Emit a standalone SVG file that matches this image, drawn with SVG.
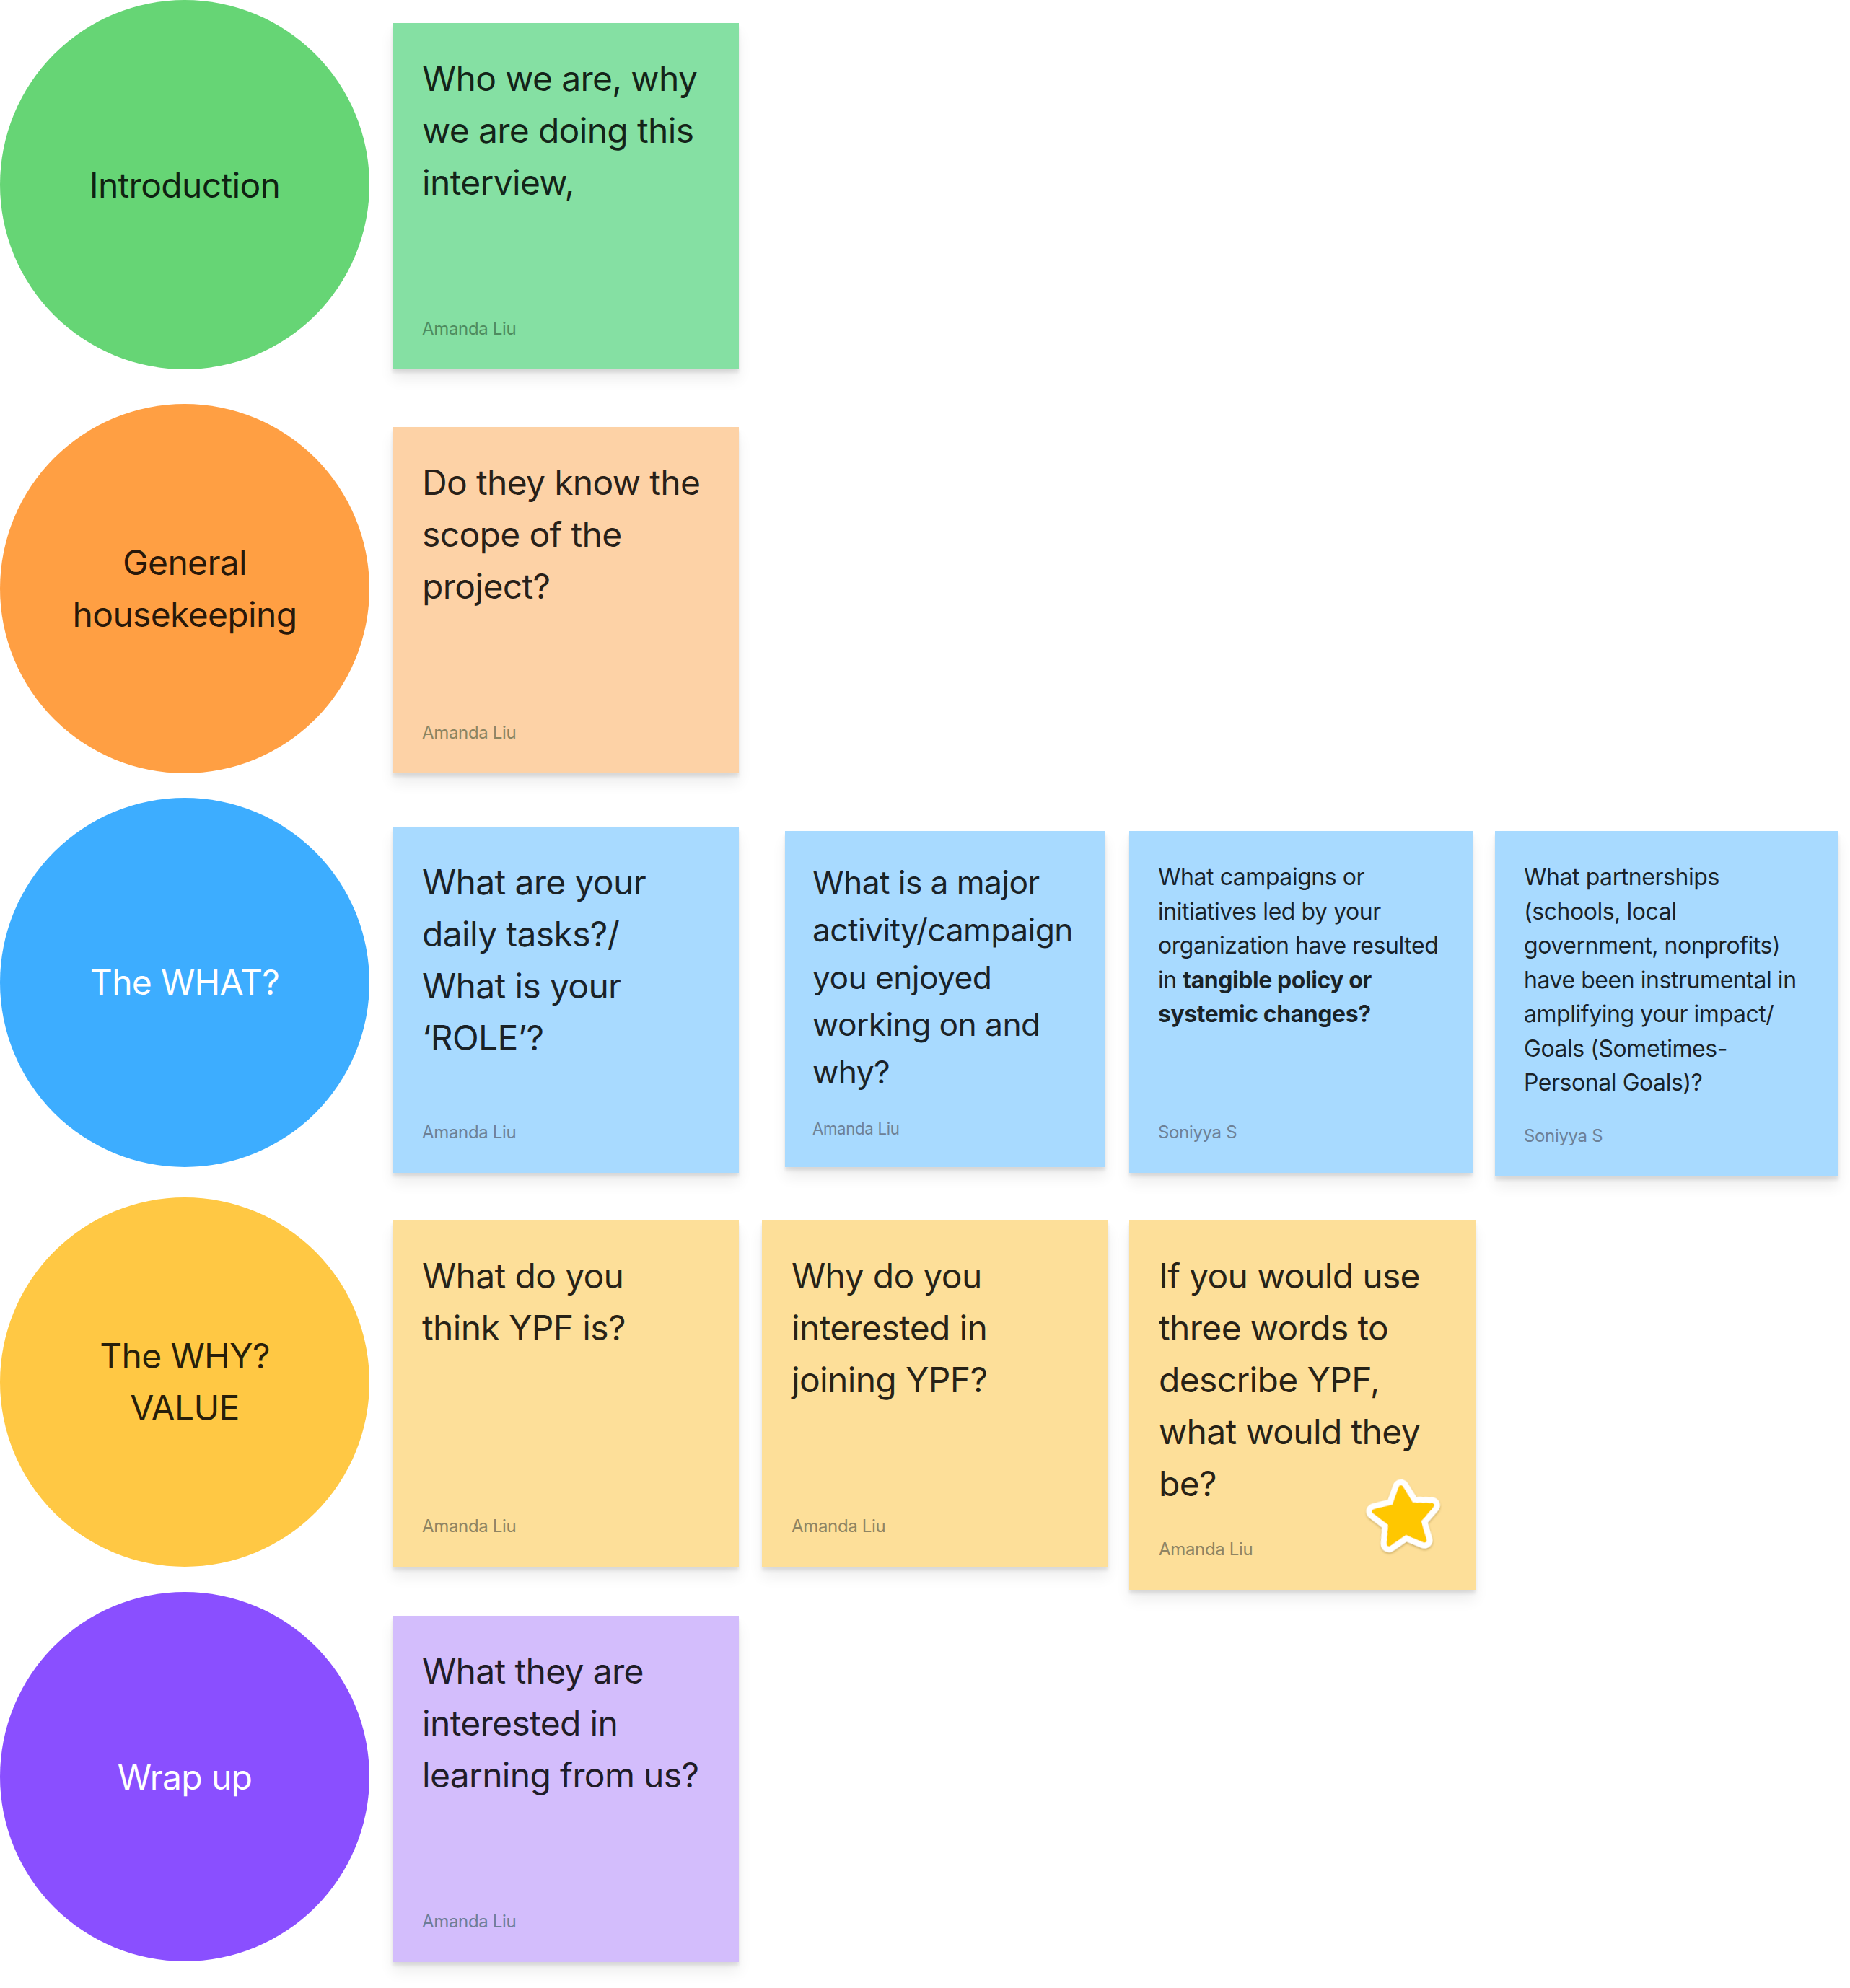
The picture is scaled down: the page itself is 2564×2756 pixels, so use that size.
<svg xmlns="http://www.w3.org/2000/svg" width="2564" height="2756" viewBox="0 0 2564 2756">
<style>
text{font-family:Inter,"Noto Sans","Liberation Sans",sans-serif;letter-spacing:-0.014em}
.lbl{font-size:48px;text-anchor:middle}
.dark{fill:#000;fill-opacity:0.85}
.wht{fill:#ffffff}
.big{font-size:48px;fill:#000;fill-opacity:0.85}
.mid{font-size:44.4px;fill:#000;fill-opacity:0.85}
.sm{font-size:32px;fill:#000;fill-opacity:0.85}
.b{font-weight:700}
.au{font-size:24px}
.au2{font-size:22.2px}
</style>
<defs>
<filter id="sh" x="-10%" y="-10%" width="120%" height="130%" color-interpolation-filters="sRGB">
  <feGaussianBlur in="SourceAlpha" stdDeviation="2" result="b1"/>
  <feOffset in="b1" dy="5" result="o1"/>
  <feComponentTransfer in="o1" result="s1"><feFuncA type="linear" slope="0.1"/></feComponentTransfer>
  <feGaussianBlur in="SourceAlpha" stdDeviation="10" result="b2"/>
  <feOffset in="b2" dy="14" result="o2"/>
  <feComponentTransfer in="o2" result="s2"><feFuncA type="linear" slope="0.07"/></feComponentTransfer>
  <feMerge><feMergeNode in="s2"/><feMergeNode in="s1"/><feMergeNode in="SourceGraphic"/></feMerge>
</filter>
<filter id="stsh" x="-30%" y="-30%" width="160%" height="160%">
  <feDropShadow dx="0" dy="2" stdDeviation="1.5" flood-color="#7a5a00" flood-opacity="0.35"/>
</filter>
<polygon id="star" points="0,-39 11.3,-15.5 37.1,-12 18.2,5.9 22.9,31.6 0,19 -22.9,31.6 -18.2,5.9 -37.1,-12 -11.3,-15.5"/>
</defs>
<rect width="2564" height="2756" fill="#ffffff"/>

<!-- Row 1 -->
<g id="introduction">
  <circle cx="256" cy="256" r="256" fill="#66D575"/>
  <text class="lbl dark" x="256" y="274">Introduction</text>
</g>
<g id="note-intro">
  <rect x="544" y="32" width="480" height="480" fill="#85E0A3" filter="url(#sh)"/>
  <text class="big" x="585" y="126">Who we are, why</text>
  <text class="big" x="585" y="198">we are doing this</text>
  <text class="big" x="585" y="270">interview,</text>
  <text class="au" x="585" y="464" fill="#4E8B5F">Amanda Liu</text>
</g>

<!-- Row 2 -->
<g id="general-housekeeping">
  <circle cx="256" cy="816" r="256" fill="#FF9F43"/>
  <text class="lbl dark" x="256" y="797">General</text>
  <text class="lbl dark" x="256" y="869">housekeeping</text>
</g>
<g id="note-scope">
  <rect x="544" y="592" width="480" height="480" fill="#FDD2A6" filter="url(#sh)"/>
  <text class="big" x="585" y="686">Do they know the</text>
  <text class="big" x="585" y="758">scope of the</text>
  <text class="big" x="585" y="830">project?</text>
  <text class="au" x="585" y="1024" fill="#8B8461">Amanda Liu</text>
</g>

<!-- Row 3 -->
<g id="the-what">
  <circle cx="256" cy="1362" r="256" fill="#3DADFF"/>
  <text class="lbl wht" x="256" y="1379">The WHAT?</text>
</g>
<g id="note-role">
  <rect x="544" y="1146" width="480" height="480" fill="#A8DAFF" filter="url(#sh)"/>
  <text class="big" x="585" y="1240">What are your</text>
  <text class="big" x="585" y="1312">daily tasks?/</text>
  <text class="big" x="585" y="1384">What is your</text>
  <text class="big" x="585" y="1456">‘ROLE’?</text>
  <text class="au" x="585" y="1578" fill="#6D8197">Amanda Liu</text>
</g>
<g id="note-activity">
  <rect x="1088" y="1152" width="444" height="466" fill="#A8DAFF" filter="url(#sh)"/>
  <text class="mid" x="1126" y="1239">What is a major</text>
  <text class="mid" x="1126" y="1305">activity/campaign</text>
  <text class="mid" x="1126" y="1371">you enjoyed</text>
  <text class="mid" x="1126" y="1436">working on and</text>
  <text class="mid" x="1126" y="1502">why?</text>
  <text class="au2" x="1126" y="1573" fill="#6D8197">Amanda Liu</text>
</g>
<g id="note-campaigns">
  <rect x="1565" y="1152" width="476" height="474" fill="#A8DAFF" filter="url(#sh)"/>
  <text class="sm" x="1605" y="1227">What campaigns or</text>
  <text class="sm" x="1605" y="1274.5">initiatives led by your</text>
  <text class="sm" x="1605" y="1322">organization have resulted</text>
  <text class="sm" x="1605" y="1369.5">in <tspan class="b">tangible policy or</tspan></text>
  <text class="sm b" x="1605" y="1417">systemic changes?</text>
  <text class="au" x="1605" y="1578" fill="#6D8197">Soniyya S</text>
</g>
<g id="note-partnerships">
  <rect x="2072" y="1152" width="476" height="479" fill="#A8DAFF" filter="url(#sh)"/>
  <text class="sm" x="2112" y="1227">What partnerships</text>
  <text class="sm" x="2112" y="1274.5">(schools, local</text>
  <text class="sm" x="2112" y="1322">government, nonprofits)</text>
  <text class="sm" x="2112" y="1369.5">have been instrumental in</text>
  <text class="sm" x="2112" y="1417">amplifying your impact/</text>
  <text class="sm" x="2112" y="1464.5">Goals (Sometimes-</text>
  <text class="sm" x="2112" y="1512">Personal Goals)?</text>
  <text class="au" x="2112" y="1583" fill="#6D8197">Soniyya S</text>
</g>

<!-- Row 4 -->
<g id="the-why">
  <circle cx="256" cy="1916" r="256" fill="#FFC844"/>
  <text class="lbl dark" x="256" y="1897">The WHY?</text>
  <text class="lbl dark" x="256" y="1969">VALUE</text>
</g>
<g id="note-ypf">
  <rect x="544" y="1692" width="480" height="480" fill="#FDDF99" filter="url(#sh)"/>
  <text class="big" x="585" y="1786">What do you</text>
  <text class="big" x="585" y="1858">think YPF is?</text>
  <text class="au" x="585" y="2124" fill="#8F8462">Amanda Liu</text>
</g>
<g id="note-joining">
  <rect x="1056" y="1692" width="480" height="480" fill="#FDDF99" filter="url(#sh)"/>
  <text class="big" x="1097" y="1786">Why do you</text>
  <text class="big" x="1097" y="1858">interested in</text>
  <text class="big" x="1097" y="1930">joining YPF?</text>
  <text class="au" x="1097" y="2124" fill="#8F8462">Amanda Liu</text>
</g>
<g id="note-three-words">
  <rect x="1565" y="1692" width="480" height="512" fill="#FDDF99" filter="url(#sh)"/>
  <text class="big" x="1606" y="1786">If you would use</text>
  <text class="big" x="1606" y="1858">three words to</text>
  <text class="big" x="1606" y="1930">describe YPF,</text>
  <text class="big" x="1606" y="2002">what would they</text>
  <text class="big" x="1606" y="2074">be?</text>
  <text class="au" x="1606" y="2156" fill="#8F8462">Amanda Liu</text>
  <g transform="translate(1946,2104) rotate(-6) scale(1.08)" filter="url(#stsh)">
    <use href="#star" fill="#ffffff" stroke="#ffffff" stroke-width="21" stroke-linejoin="round"/>
    <use href="#star" fill="#FFC700" stroke="#FFC700" stroke-width="6" stroke-linejoin="round"/>
  </g>
</g>

<!-- Row 5 -->
<g id="wrap-up">
  <circle cx="256" cy="2463" r="256" fill="#8A4FFF"/>
  <text class="lbl wht" x="256" y="2481">Wrap up</text>
</g>
<g id="note-learning">
  <rect x="544" y="2240" width="480" height="480" fill="#D3BDFC" filter="url(#sh)"/>
  <text class="big" x="585" y="2334">What they are</text>
  <text class="big" x="585" y="2406">interested in</text>
  <text class="big" x="585" y="2478">learning from us?</text>
  <text class="au" x="585" y="2672" fill="#6E7D97">Amanda Liu</text>
</g>
</svg>
